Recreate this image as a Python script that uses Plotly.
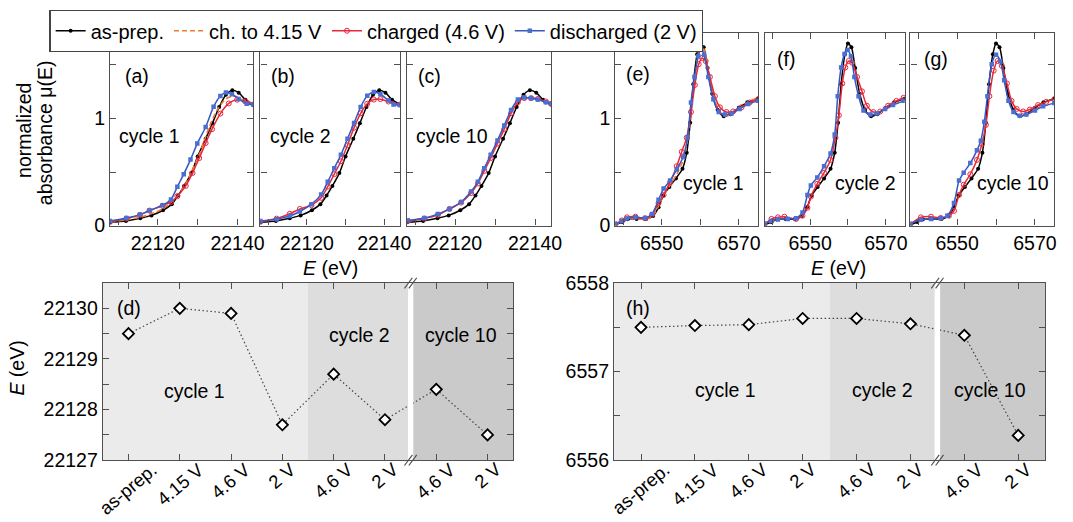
import plotly.graph_objects as go

W, H = 1073, 522
FONT = "Liberation Sans, Arial, Helvetica, sans-serif"
FS = 19.5
FRAME = "#505050"

# ---------------- Ru K-edge spectra (eV, normalized absorbance) ----------------
ru_asprep_E = [22108.0, 22112.0, 22115.6, 22118.4, 22121.3, 22123.5, 22125.1, 22126.6, 22128.4,
               22130.0, 22132.0, 22133.7, 22135.4, 22137.1, 22138.7, 22140.3, 22142.0, 22144.0]
ru_asprep_mu = [0.03, 0.043, 0.068, 0.095, 0.143, 0.2, 0.28, 0.37, 0.49,
                0.645, 0.81, 0.955, 1.107, 1.222, 1.262, 1.24, 1.175, 1.13]

a_415_E = [22108.0, 22115.5, 22121.2, 22124.9, 22127.0, 22128.7, 22130.8, 22132.8, 22134.9,
           22137.0, 22139.0, 22141.1, 22144.0]
a_415_mu = [0.032, 0.077, 0.155, 0.274, 0.39, 0.52, 0.7, 0.91, 1.08, 1.18, 1.21, 1.18, 1.137]

a_ch_E = [22108.0, 22112.1, 22115.5, 22117.9, 22121.2, 22123.3, 22124.9, 22127.0, 22128.7,
          22130.4, 22132.0, 22133.6, 22135.7, 22137.8, 22139.9, 22141.9, 22144.0]
a_ch_mu = [0.035, 0.065, 0.1, 0.14, 0.185, 0.22, 0.274, 0.37, 0.49,
           0.63, 0.77, 0.9, 1.045, 1.14, 1.175, 1.16, 1.13]

a_dis_E = [22108.0, 22112.1, 22115.5, 22117.9, 22121.2, 22123.3, 22124.9, 22126.5, 22128.2,
           22129.9, 22132.0, 22134.0, 22135.7, 22137.1, 22138.6, 22140.3, 22142.3, 22144.0]
a_dis_mu = [0.042, 0.071, 0.1, 0.14, 0.19, 0.244, 0.363, 0.48, 0.616,
            0.765, 0.92, 1.11, 1.21, 1.241, 1.226, 1.182, 1.137, 1.13]

b_ch_E = [22108.0, 22112.2, 22115.6, 22118.2, 22121.2, 22123.7, 22125.4, 22127.1, 22128.8,
          22130.5, 22132.2, 22133.9, 22135.6, 22137.3, 22139.0, 22141.1, 22144.0]
b_ch_mu = [0.035, 0.065, 0.11, 0.155, 0.19, 0.259, 0.363, 0.48, 0.6,
           0.75, 0.914, 1.048, 1.137, 1.176, 1.18, 1.158, 1.13]

b_dis_E = [22108.0, 22112.2, 22115.6, 22118.2, 22121.2, 22123.7, 22125.4, 22127.1, 22128.8,
           22130.5, 22132.2, 22133.9, 22135.6, 22137.3, 22139.0, 22141.1, 22142.4, 22144.0]
b_dis_mu = [0.042, 0.06, 0.089, 0.131, 0.2, 0.289, 0.408, 0.536, 0.66,
            0.81, 0.958, 1.107, 1.211, 1.247, 1.226, 1.167, 1.13, 1.125]

c_E = [22108.2, 22112.3, 22115.7, 22118.6, 22121.5, 22124.0, 22125.7, 22127.3, 22128.9,
       22130.6, 22132.3, 22134.0, 22135.7, 22137.3, 22139.0, 22140.7, 22142.7, 22144.0]
c_ch_mu = [0.042, 0.065, 0.1, 0.155, 0.214, 0.304, 0.393, 0.51, 0.63,
           0.765, 0.9, 1.048, 1.152, 1.19, 1.19, 1.182, 1.158, 1.137]
c_dis_mu = [0.048, 0.071, 0.107, 0.155, 0.22, 0.318, 0.408, 0.536, 0.66,
            0.795, 0.935, 1.078, 1.176, 1.196, 1.188, 1.176, 1.152, 1.137]

# ---------------- Mn K-edge spectra ----------------
mn_asprep_E = [6538.0, 6539.8, 6541.2, 6543.5, 6546.0, 6547.8, 6549.2, 6550.4, 6552.0, 6553.7,
               6555.4, 6556.5, 6557.4, 6558.2, 6559.2, 6560.0, 6560.9, 6561.9, 6563.1, 6564.5,
               6566.1, 6567.8, 6570.0, 6572.2, 6575.0]
mn_asprep_mu = [0.009, 0.033, 0.058, 0.062, 0.061, 0.09, 0.17, 0.28, 0.36, 0.44,
                0.53, 0.68, 0.96, 1.32, 1.6, 1.70, 1.665, 1.47, 1.23, 1.08,
                1.02, 1.04, 1.1, 1.15, 1.185]

e_415_E = [6538.0, 6541.0, 6545.7, 6547.5, 6549.2, 6550.5, 6552.2, 6553.9, 6555.6, 6556.7,
           6557.6, 6558.5, 6559.5, 6560.2, 6561.0, 6562.1, 6563.4, 6564.8, 6566.4, 6568.1,
           6570.2, 6572.4, 6575.0]
e_415_mu = [0.009, 0.06, 0.06, 0.083, 0.182, 0.286, 0.375, 0.479, 0.613, 0.792,
            1.06, 1.357, 1.61, 1.685, 1.64, 1.446, 1.223, 1.074, 1.021, 1.039,
            1.095, 1.155, 1.193]

e_ch_E = [6538.0, 6539.7, 6541.0, 6543.2, 6545.7, 6547.5, 6549.2, 6550.5, 6552.2, 6553.9,
          6555.2, 6556.5, 6557.6, 6558.6, 6559.6, 6560.5, 6561.4, 6562.5, 6563.8, 6565.1,
          6566.8, 6568.5, 6570.7, 6572.8, 6575.0]
e_ch_mu = [0.012, 0.048, 0.077, 0.083, 0.068, 0.1, 0.211, 0.286, 0.405, 0.554,
           0.688, 0.821, 1.06, 1.312, 1.506, 1.565, 1.536, 1.387, 1.208, 1.104,
           1.06, 1.065, 1.104, 1.149, 1.179]

e_dis_E = [6538.0, 6539.7, 6541.0, 6543.2, 6545.7, 6547.5, 6549.2, 6550.5, 6552.2, 6553.9,
           6555.6, 6556.7, 6557.6, 6558.5, 6559.5, 6560.2, 6561.0, 6562.1, 6563.4, 6564.8,
           6566.4, 6568.1, 6570.2, 6572.4, 6575.0]
e_dis_mu = [0.018, 0.042, 0.065, 0.077, 0.071, 0.107, 0.241, 0.345, 0.42, 0.524,
            0.643, 0.821, 1.149, 1.387, 1.58, 1.661, 1.595, 1.387, 1.179, 1.06,
            1.036, 1.045, 1.089, 1.134, 1.164]

f_ch_E = [6538.0, 6539.8, 6541.5, 6543.2, 6546.3, 6548.0, 6549.3, 6550.2, 6551.9, 6553.7,
          6555.4, 6556.7, 6557.6, 6558.5, 6559.3, 6560.2, 6561.1, 6562.4, 6563.7, 6565.0,
          6566.7, 6568.5, 6570.6, 6572.8, 6574.7]
f_ch_mu = [0.012, 0.062, 0.077, 0.083, 0.062, 0.092, 0.166, 0.271, 0.39, 0.494,
           0.613, 0.821, 1.03, 1.327, 1.476, 1.536, 1.52, 1.387, 1.253, 1.119,
           1.06, 1.065, 1.119, 1.164, 1.193]

f_dis_E = [6538.0, 6539.8, 6541.5, 6544.1, 6546.3, 6548.0, 6549.3, 6550.2, 6551.9, 6553.7,
           6555.4, 6556.5, 6557.3, 6558.2, 6559.1, 6559.9, 6560.8, 6561.7, 6562.8, 6564.1,
           6565.9, 6567.6, 6569.8, 6571.9, 6574.7]
f_dis_mu = [0.018, 0.042, 0.057, 0.062, 0.068, 0.122, 0.286, 0.375, 0.449, 0.554,
            0.673, 0.851, 1.208, 1.476, 1.601, 1.64, 1.58, 1.387, 1.208, 1.074,
            1.036, 1.045, 1.089, 1.125, 1.164]

g_ch_E = [6538.0, 6540.7, 6543.3, 6545.8, 6547.9, 6549.2, 6550.5, 6551.7, 6553.4, 6555.1,
          6556.4, 6557.4, 6558.3, 6559.4, 6560.4, 6561.5, 6562.8, 6564.0, 6565.3, 6567.0,
          6568.7, 6570.8, 6572.9, 6575.0]
g_ch_mu = [0.012, 0.077, 0.083, 0.071, 0.092, 0.137, 0.286, 0.381, 0.479, 0.613,
           0.762, 0.94, 1.208, 1.446, 1.536, 1.491, 1.327, 1.164, 1.089, 1.065,
           1.083, 1.125, 1.155, 1.179]

g_dis_E = [6538.0, 6540.7, 6543.3, 6545.8, 6547.5, 6549.2, 6550.5, 6551.7, 6553.4, 6555.1,
           6556.1, 6557.0, 6557.8, 6558.9, 6560.0, 6561.1, 6562.1, 6563.2, 6564.5, 6566.1,
           6567.8, 6570.0, 6572.1, 6575.0]
g_dis_mu = [0.018, 0.054, 0.062, 0.068, 0.092, 0.211, 0.42, 0.494, 0.583, 0.702,
            0.792, 0.97, 1.208, 1.506, 1.595, 1.536, 1.357, 1.164, 1.06, 1.024,
            1.036, 1.074, 1.113, 1.143]

# ---------------- edge positions ----------------
state_labels = ["as-prep.", "4.15 V", "4.6 V", "2 V", "4.6 V", "2 V", "4.6 V", "2 V"]
ru_edge = [22129.5, 22130.0, 22129.9, 22127.7, 22128.7, 22127.8, 22128.4, 22127.5]
mn_edge = [6557.50, 6557.52, 6557.53, 6557.60, 6557.60, 6557.54, 6557.41, 6556.28]

STYLE = {
    "asprep": dict(name="as-prep.", mode="lines+markers",
                   line=dict(color="#000000", width=1.5),
                   marker=dict(symbol="circle", size=4, color="#000000")),
    "415": dict(name="ch. to 4.15 V", mode="lines",
                line=dict(color="#f07a2e", width=1.6, dash="5px,3px")),
    "ch": dict(name="charged (4.6 V)", mode="lines+markers",
               line=dict(color="#e8283a", width=1.5),
               marker=dict(symbol="circle-open", size=5, color="#e8283a", line=dict(width=1.0))),
    "dis": dict(name="discharged (2 V)", mode="lines+markers",
                line=dict(color="#3558c0", width=1.5),
                marker=dict(symbol="square", size=4.5, color="#4a6ed2")),
}


def sfx(n):
    return "" if n == 1 else str(n)


def xdom(x0, x1):
    return [x0 / W, x1 / W]


def ydom(top, bottom):
    return [1 - bottom / H, 1 - top / H]


def px(x, y):
    return x / W, 1 - y / H


fig = go.Figure()


def spectrum(n, E, mu, kind, show=False):
    st = dict(STYLE[kind])
    line = dict(st.pop("line"))
    line.update(shape="spline", smoothing=0.7)
    fig.add_trace(go.Scatter(x=E, y=mu, line=line, showlegend=show, legendrank=list(STYLE).index(kind),
                             xaxis="x" + sfx(n), yaxis="y" + sfx(n), **st))


# panel number -> spectra drawn in it
spectra = {
    1: [(ru_asprep_E, ru_asprep_mu, "asprep"), (a_415_E, a_415_mu, "415"),
        (a_ch_E, a_ch_mu, "ch"), (a_dis_E, a_dis_mu, "dis")],
    2: [(ru_asprep_E, ru_asprep_mu, "asprep"), (b_ch_E, b_ch_mu, "ch"), (b_dis_E, b_dis_mu, "dis")],
    3: [(ru_asprep_E, ru_asprep_mu, "asprep"), (c_E, c_ch_mu, "ch"), (c_E, c_dis_mu, "dis")],
    4: [(mn_asprep_E, mn_asprep_mu, "asprep"), (e_415_E, e_415_mu, "415"),
        (e_ch_E, e_ch_mu, "ch"), (e_dis_E, e_dis_mu, "dis")],
    5: [(mn_asprep_E, mn_asprep_mu, "asprep"), (f_ch_E, f_ch_mu, "ch"), (f_dis_E, f_dis_mu, "dis")],
    6: [(mn_asprep_E, mn_asprep_mu, "asprep"), (g_ch_E, g_ch_mu, "ch"), (g_dis_E, g_dis_mu, "dis")],
}
for n, items in spectra.items():
    for E, mu, kind in items:
        spectrum(n, E, mu, kind, show=(n == 1))

common = dict(showline=True, linecolor=FRAME, linewidth=1.3, mirror="ticks", ticks="inside",
              ticklen=6, tickwidth=1.2, tickcolor=FRAME, showgrid=False, zeroline=False,
              exponentformat="none", separatethousands=False, tickformat="d",
              tickfont=dict(size=FS, color="black"))


def minor(dtick, tick0):
    return dict(ticks="inside", ticklen=6, tickwidth=1.2, tickcolor=FRAME, dtick=dtick, tick0=tick0,
                showgrid=False)


top_y = ydom(22.7, 224)
top_panels = {
    1: ((111.3, 256.3), [22108, 22144], 22120),
    2: ((263.3, 404.3), [22108, 22144], 22120),
    3: ((411.7, 557.3), [22108, 22144], 22120),
    4: ((622.3, 766.7), [6538, 6575], 6550),
    5: ((773.3, 915.0), [6538, 6575], 6550),
    6: ((920.7, 1066.3), [6538, 6575], 6550),
}
layout = {}
for n, ((x0, x1), rng, t0) in top_panels.items():
    layout["xaxis" + sfx(n)] = dict(domain=xdom(x0, x1), range=rng, anchor="y" + sfx(n),
                                    tick0=t0, dtick=20, minor=minor(10, t0 - 10), **common)
    layout["yaxis" + sfx(n)] = dict(domain=top_y, range=[0, 1.8], anchor="x" + sfx(n),
                                    tick0=0, dtick=1, minor=minor(0.5, 0),
                                    showticklabels=(n in (1, 4)), **common)

bot_y = ydom(284, 469)
idx = list(range(len(state_labels)))
bottom_panels = {
    7: ((104, 519), ru_edge, [22127, 22130.5]),
    8: ((621, 1057), mn_edge, [6556, 6558]),
}
shapes = []
annotations = []
for n, ((x0, x1), vals, yr) in bottom_panels.items():
    xa, ya = "x" + sfx(n), "y" + sfx(n)
    layout["xaxis" + sfx(n)] = dict(domain=xdom(x0, x1), range=[-0.5, 7.5], anchor=ya,
                                    tick0=0, dtick=1, showticklabels=False, **common)
    layout["yaxis" + sfx(n)] = dict(domain=bot_y, range=yr, anchor=xa, dtick=1,
                                    minor=minor(0.5, yr[0]), **common)
    # cycle shading
    for a, b, col in [(-0.5, 3.5, "#ebebeb"), (3.5, 5.45, "#dddddd"), (5.55, 7.5, "#cacaca")]:
        shapes.append(dict(type="rect", xref=xa, yref=ya + " domain", x0=a, x1=b, y0=0, y1=1,
                           fillcolor=col, line=dict(width=0), layer="below"))
    # axis break
    bx = (5.5 + 0.5) / 8
    pw = x1 - x0
    shapes.append(dict(type="rect", xref=xa + " domain", yref=ya + " domain",
                       x0=bx - 2.6 / pw, x1=bx + 2.6 / pw, y0=0.006, y1=0.994,
                       fillcolor="white", line=dict(width=0), layer="above"))
    for yc in (0, 1):
        for off in (-2.2, 2.2):
            cx = bx + off / pw
            shapes.append(dict(type="line", xref=xa + " domain", yref=ya + " domain",
                               x0=cx - 4 / pw, x1=cx + 4 / pw, y0=yc - 5.5 / 185, y1=yc + 5.5 / 185,
                               line=dict(color=FRAME, width=1.2), layer="above"))
    fig.add_trace(go.Scatter(x=idx, y=vals, mode="lines+markers", showlegend=False,
                             line=dict(color="#444444", width=1.2, dash="1.5px,2.5px"),
                             marker=dict(symbol="diamond", size=8.5, color="white",
                                         line=dict(color="black", width=1.8)),
                             xaxis=xa, yaxis=ya))
    for i, lab in zip(idx, state_labels):
        annotations.append(dict(text=lab, xref=xa, x=i, yref="paper", y=1 - 466 / H,
                                xanchor="center", yanchor="top", textangle=-40, showarrow=False,
                                borderpad=0, font=dict(size=18.5)))


def note(text, x, y, xanchor="left", yanchor="middle", xref="paper", yref="paper", angle=0, size=FS):
    annotations.append(dict(text=text, x=x, y=y, xref=xref, yref=yref, xanchor=xanchor,
                            yanchor=yanchor, textangle=angle, showarrow=False, font=dict(size=size)))


def pnote(text, x, y, **kw):
    X, Y = px(x, y)
    note(text, X, Y, **kw)


# spectra panel labels
for lab, x, y in [("(a)", 124, 68), ("(b)", 272, 68), ("(c)", 421, 68),
                  ("(e)", 631, 66), ("(f)", 784, 50), ("(g)", 932, 50)]:
    pnote(lab, x, y)
for lab, x, y in [("cycle 1", 118, 130), ("cycle 2", 271, 130), ("cycle 10", 419, 130),
                  ("cycle 1", 689, 180), ("cycle 2", 842, 180), ("cycle 10", 986, 180)]:
    pnote(lab, x, y)
pnote("<i>E</i> (eV)", 334, 268, xanchor="center")
pnote("<i>E</i> (eV)", 848, 268, xanchor="center")
pnote("normalized", 24.5, 125, xanchor="center", angle=-90)
pnote("absorbance μ(E)", 45, 127, xanchor="center", angle=-90)
pnote("<i>E</i> (eV)", 17.5, 373, xanchor="center", angle=-90)

# edge-position panel labels
note("(d)", -0.27, 22130.0, xref="x7", yref="y7")
note("cycle 1", 1.29, 22128.36, xanchor="center", xref="x7", yref="y7")
note("cycle 2", 4.5, 22129.47, xanchor="center", xref="x7", yref="y7")
note("cycle 10", 6.48, 22129.47, xanchor="center", xref="x7", yref="y7")
note("(h)", -0.31, 6557.72, xref="x8", yref="y8")
note("cycle 1", 1.56, 6556.79, xanchor="center", xref="x8", yref="y8")
note("cycle 2", 4.49, 6556.79, xanchor="center", xref="x8", yref="y8")
note("cycle 10", 6.47, 6556.79, xanchor="center", xref="x8", yref="y8")

lx, ly = px(50, -1)
fig.update_layout(
    width=W, height=H, margin=dict(l=0, r=0, t=0, b=0),
    paper_bgcolor="white", plot_bgcolor="white",
    font=dict(family=FONT, size=FS, color="black"),
    showlegend=True,
    legend=dict(orientation="h", x=lx, y=ly, xanchor="left", yanchor="top",
                bgcolor="white", bordercolor="#444444", borderwidth=1.2,
                font=dict(size=20), itemwidth=30, tracegroupgap=0),
    shapes=shapes, annotations=annotations,
    **layout,
)

fig.write_html("out.html")
